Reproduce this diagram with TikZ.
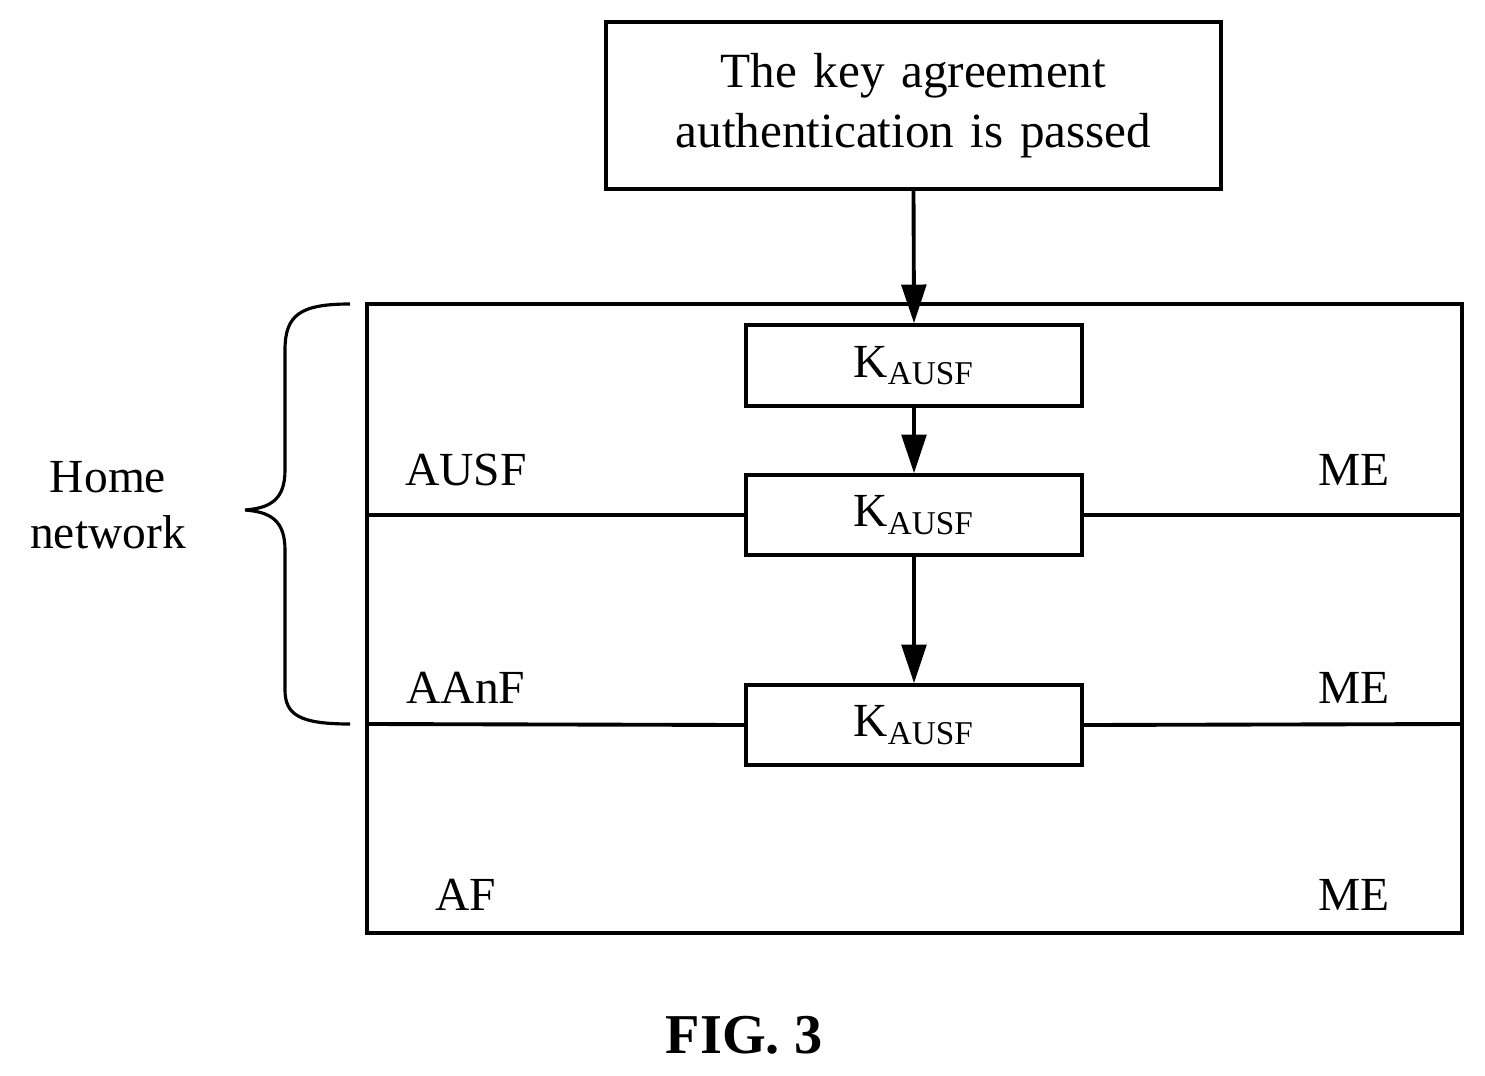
\documentclass[tikz,border=0pt]{standalone}
\usepackage{fontspec}
\setmainfont{Liberation Serif}
\usetikzlibrary{arrows.meta}
\begin{document}
\begin{tikzpicture}[x=0.01cm,y=-0.01cm,
  box/.style={draw,line width=1pt,inner sep=0pt},
  lbl/.style={font=\fontsize{13.5}{16}\selectfont},
  arr/.style={line width=1.1pt,-{Triangle[length=11pt,width=7pt]}},
  ln/.style={line width=1.1pt}]
\useasboundingbox (0,0) rectangle (1485,1076);
\node[box,minimum width=615\pgflinewidth,text width=6cm,align=center,lbl,font=\fontsize{14}{17}\selectfont] (top) at (913.5,105.5) [minimum width=6.15cm,minimum height=1.67cm] {The key agreement\\authentication is passed};
\node[box,minimum width=1095*0.01cm,minimum height=629*0.01cm] (main) at (914.5,618.5) {};
\node[box,minimum width=3.36cm,minimum height=0.81cm,lbl] (k1) at (914,365.5) {K\textsubscript{AUSF}};
\node[box,minimum width=3.36cm,minimum height=0.80cm,lbl] (k2) at (914,515) {K\textsubscript{AUSF}};
\node[box,minimum width=3.36cm,minimum height=0.80cm,lbl] (k3) at (914,725) {K\textsubscript{AUSF}};
\draw[arr] (top.south) -- (k1.north);
\draw[arr] (k1.south) -- (k2.north);
\draw[arr] (k2.south) -- (k3.north);
\coordinate (l1) at (367,515); \coordinate (r1) at (1462,515);
\coordinate (l2) at (367,724); \coordinate (r2) at (1462,724);
\draw[ln] (l1) -- (k2.west); \draw[ln] (k2.east) -- (r1);
\draw[ln] (l2) -- (k3.west); \draw[ln] (k3.east) -- (r2);
\node[lbl] (ausf) at (466,470) {AUSF};
\node[lbl] (me1) at (1354,470) {ME};
\node[lbl] (aanf) at (466,688) {AAnF};
\node[lbl] (me2) at (1354,688) {ME};
\node[lbl] (af) at (466,895) {AF};
\node[lbl] (me3) at (1354,895) {ME};
\node[lbl,align=center] (home) at (108,505) {Home\\network};
\draw[line width=0.9pt] (350,304) .. controls (300,304) and (285,315) .. (285,350) -- (285,470) .. controls (285,500) and (270,508) .. (245,510) .. controls (270,512) and (285,520) .. (285,550) -- (285,690) .. controls (285,715) and (300,724) .. (350,724);
\node[font=\fontsize{16}{19}\selectfont\bfseries] (fig) at (744,1035) {FIG. 3};
\end{tikzpicture}
\end{document}
